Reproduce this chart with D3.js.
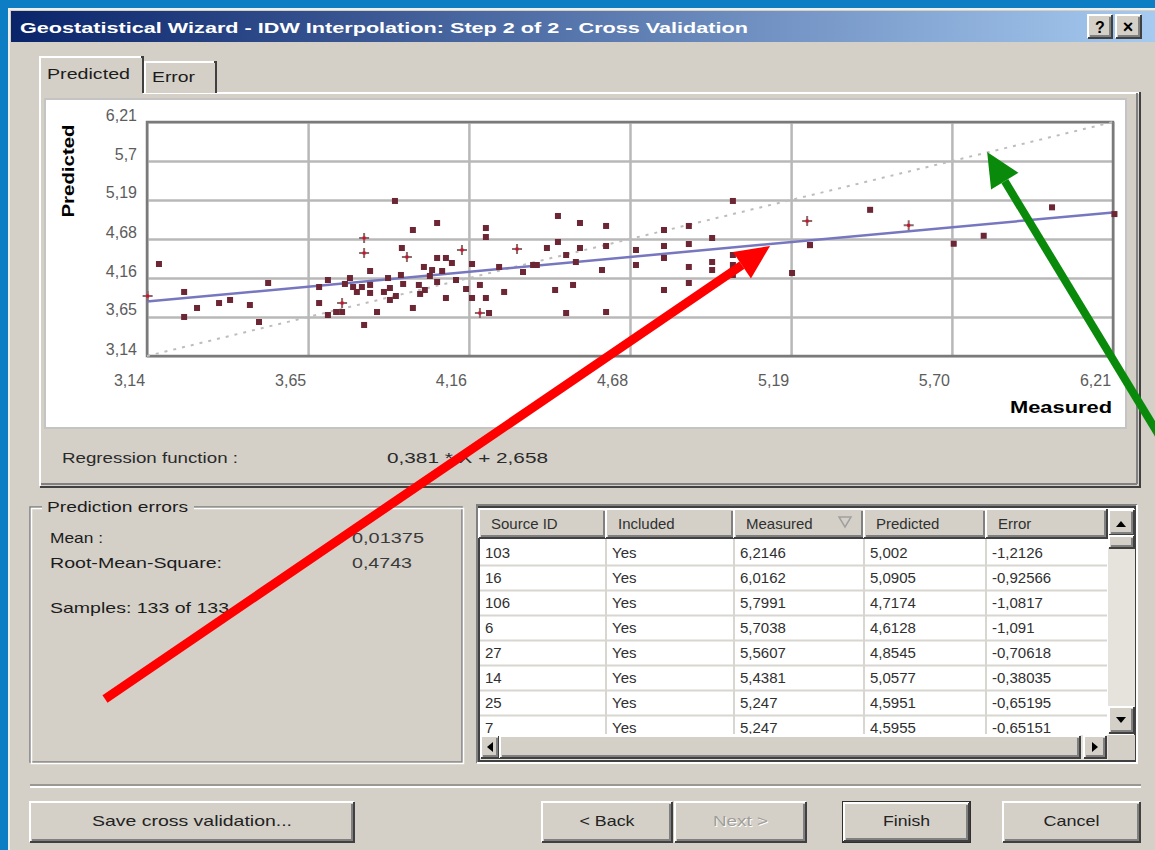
<!DOCTYPE html>
<html>
<head>
<meta charset="utf-8">
<script src="https://cdn.jsdelivr.net/npm/d3@7"></script>
<style>
  body { margin: 0; background: #0d7dc4; }
  svg text { font-family: "Liberation Sans", Arial, sans-serif; }
</style>
</head>
<body>
<svg id="viz" width="1155" height="850"></svg>
<script>
// ---- data ----
var measured = [3.178, 3.258, 3.258, 3.299, 3.369, 3.404, 3.467, 3.525, 3.496, 3.687,
  3.687, 3.715, 3.715, 3.741, 3.760, 3.785, 3.795, 3.807, 3.830, 3.849,
  3.849, 3.849, 3.871, 3.912, 3.912, 3.906, 3.928, 3.950, 3.954, 3.985,
  3.985, 4.004, 4.020, 4.023, 4.046, 4.062, 4.062, 4.062, 4.078, 4.090,
  4.090, 4.109, 4.154, 4.173, 4.173, 4.198, 4.217, 4.217, 4.217, 4.227,
  4.259, 4.275, 4.335, 4.367, 4.379, 4.411, 4.437, 4.446, 4.446, 4.472,
  4.472, 4.494, 4.503, 4.516, 4.516, 4.586, 4.599, 4.599, 4.599, 4.694,
  4.694, 4.783, 4.783, 4.783, 4.783, 4.862, 4.862, 4.862, 4.862, 4.936,
  4.936, 4.936, 5.002, 5.002, 5.002, 5.002, 5.190, 5.247, 5.247, 5.4381,
  5.7038, 5.7991, 6.0162, 6.2146,
  3.893, 3.931, 3.823, 3.769, 4.039, 4.122, 4.008, 3.947];
var predicted = [4.347, 3.980, 3.652, 3.770, 3.835, 3.875, 3.809, 4.098, 3.586, 4.045,
  3.835, 4.137, 3.678, 3.717, 3.717, 4.163, 4.045, 3.980, 3.547, 4.255,
  4.072, 3.967, 3.717, 4.032, 3.875, 4.163, 5.174, 4.557, 4.085, 4.793,
  3.770, 4.072, 4.308, 4.006, 4.268, 4.885, 4.426, 4.111, 4.255, 4.426,
  3.901, 4.360, 4.019, 4.347, 3.901, 4.072, 4.819, 4.701, 3.901, 3.704,
  4.308, 3.980, 4.242, 4.334, 4.334, 4.557, 4.006, 4.977, 4.636, 4.465,
  3.704, 4.072, 4.373, 4.885, 4.557, 4.268, 4.846, 4.583, 3.717, 4.531,
  4.334, 4.793, 4.583, 4.426, 4.006, 4.846, 4.609, 4.308, 4.098, 4.688,
  4.268, 4.373, 5.174, 4.465, 4.334, 4.203, 4.229, 4.5951, 4.5955, 5.0577,
  4.6128, 4.7174, 5.0905, 5.002,
  3.980, 3.927, 4.045, 4.085, 4.190, 4.137, 3.954, 4.203];

// points drawn as "+" in the plot
var plusMeasured = [3.142, 3.830, 3.830, 3.760, 3.966, 4.141, 4.198, 4.316, 5.238, 5.5607];
var plusPredicted = [3.927, 4.688, 4.491, 3.835, 4.439, 4.531, 3.704, 4.544, 4.911, 4.8545];

var tickValues = [3.14, 3.652, 4.163, 4.675, 5.187, 5.698, 6.21];
var xTickLabels = ["3,14", "3,65", "4,16", "4,68", "5,19", "5,70", "6,21"];
var yTickLabels = ["3,14", "3,65", "4,16", "4,68", "5,19", "5,7", "6,21"];

var regSlope = 0.381, regIntercept = 2.658;

var tableColumns = ["Source ID", "Included", "Measured", "Predicted", "Error"];
var tableRows = [
  ["103", "Yes", "6,2146", "5,002", "-1,2126"],
  ["16", "Yes", "6,0162", "5,0905", "-0,92566"],
  ["106", "Yes", "5,7991", "4,7174", "-1,0817"],
  ["6", "Yes", "5,7038", "4,6128", "-1,091"],
  ["27", "Yes", "5,5607", "4,8545", "-0,70618"],
  ["14", "Yes", "5,4381", "5,0577", "-0,38035"],
  ["25", "Yes", "5,247", "4,5951", "-0,65195"],
  ["7", "Yes", "5,247", "4,5955", "-0,65151"]
];

var statLabels = ["Mean :", "Root-Mean-Square:"];
var statValues = ["0,01375", "0,4743"];

// annotation arrows, in data units of the plot
var redArrow = { from: [3.0065, -1.36], to: [5.12, 4.583] };
var greenArrow = { from: [6.423, 1.644], to: [5.81, 5.816] };

// ---- helpers ----
var FACE = "#d4d0c8";
var svg = d3.select("#viz");

function txt(g, x, y, s, o) {
  o = o || {};
  var t = g.append("text").attr("x", x).attr("y", y).text(s)
    .attr("font-size", o.size || 15)
    .attr("fill", o.fill || "#1c1c1c");
  if (o.weight) t.attr("font-weight", o.weight);
  if (o.anchor) t.attr("text-anchor", o.anchor);
  if (o.len) t.attr("textLength", o.len).attr("lengthAdjust", "spacingAndGlyphs");
  return t;
}

function bevel(g, x, y, w, h, sunken, fill) {
  g.append("rect").attr("x", x).attr("y", y).attr("width", w).attr("height", h)
    .attr("fill", fill || FACE);
  var lt = sunken ? "#808080" : "#ffffff";
  var rb = sunken ? "#ffffff" : "#404040";
  var rb2 = sunken ? FACE : "#808080";
  g.append("path").attr("d", "M" + x + "," + (y + h) + "V" + y + "H" + (x + w))
    .attr("fill", "none").attr("stroke", lt).attr("stroke-width", 2);
  g.append("path").attr("d", "M" + (x + 2) + "," + (y + h - 2) + "H" + (x + w - 2) + "V" + (y + 2))
    .attr("fill", "none").attr("stroke", rb2).attr("stroke-width", 2);
  g.append("path").attr("d", "M" + x + "," + (y + h) + "H" + (x + w) + "V" + y)
    .attr("fill", "none").attr("stroke", rb).attr("stroke-width", 2);
}

function hline(g, x1, x2, y, c, w) {
  g.append("line").attr("x1", x1).attr("x2", x2).attr("y1", y).attr("y2", y)
    .attr("stroke", c).attr("stroke-width", w || 2);
}
function vline(g, x, y1, y2, c, w) {
  g.append("line").attr("x1", x).attr("x2", x).attr("y1", y1).attr("y2", y2)
    .attr("stroke", c).attr("stroke-width", w || 2);
}

// ---- dialog frame ----
svg.append("rect").attr("x", 8).attr("y", 8).attr("width", 1147).attr("height", 842).attr("fill", FACE);
vline(svg, 9, 8, 850, "#f0eee8", 2);
hline(svg, 8, 1155, 9, "#f0eee8", 2);

var grad = svg.append("defs").append("linearGradient").attr("id", "titleGrad");
grad.append("stop").attr("offset", "0%").attr("stop-color", "#0a246a");
grad.append("stop").attr("offset", "100%").attr("stop-color", "#a6caf0");
svg.append("rect").attr("x", 11).attr("y", 11).attr("width", 1144).attr("height", 31).attr("fill", "url(#titleGrad)");
txt(svg, 20, 33, "Geostatistical Wizard - IDW Interpolation: Step 2 of 2 - Cross Validation",
  { fill: "#ffffff", weight: "bold", size: 15, len: 728 });

bevel(svg, 1088, 15, 24, 23, false);
txt(svg, 1100, 33, "?", { anchor: "middle", weight: "bold", size: 16, fill: "#000" });
bevel(svg, 1116, 15, 25, 23, false);
txt(svg, 1128, 33, "×", { anchor: "middle", weight: "bold", size: 18, fill: "#000" });

// ---- tabs ----
var tabs = svg.append("g");
// panel border
hline(tabs, 40, 1140, 93, "#ffffff", 2);
vline(tabs, 40, 93, 486, "#ffffff", 2);
vline(tabs, 1137, 93, 484, "#808080", 2);
vline(tabs, 1140, 92, 487, "#404040", 2);
hline(tabs, 41, 1137, 484, "#808080", 2);
hline(tabs, 40, 1141, 487, "#404040", 2);
// Error tab
tabs.append("rect").attr("x", 145).attr("y", 60).attr("width", 71).attr("height", 33).attr("fill", FACE);
tabs.append("path").attr("d", "M145,93V62H214").attr("fill", "none").attr("stroke", "#fff").attr("stroke-width", 2);
tabs.append("path").attr("d", "M214,62H216V93").attr("fill", "none").attr("stroke", "#404040").attr("stroke-width", 2);
txt(tabs, 152, 82, "Error", { len: 43 });
// Predicted tab (selected)
tabs.append("rect").attr("x", 40).attr("y", 55).attr("width", 103).attr("height", 40).attr("fill", FACE);
tabs.append("path").attr("d", "M40,95V57H141").attr("fill", "none").attr("stroke", "#fff").attr("stroke-width", 2);
tabs.append("path").attr("d", "M141,57H143V93").attr("fill", "none").attr("stroke", "#404040").attr("stroke-width", 2);
txt(tabs, 47, 79, "Predicted", { len: 83 });

// ---- chart ----
svg.append("rect").attr("x", 45).attr("y", 99).attr("width", 1081).attr("height", 329)
  .attr("fill", "#ffffff").attr("stroke", "#c4c4c4").attr("stroke-width", 2);

var plot = { left: 147, right: 1113, top: 122, bottom: 356 };
var xScale = d3.scaleLinear().domain([3.14, 6.21]).range([plot.left, plot.right]);
var yScale = d3.scaleLinear().domain([3.14, 6.21]).range([plot.bottom, plot.top]);

var chart = svg.append("g");

var xAxis = d3.axisBottom(xScale).tickValues(tickValues)
  .tickFormat(function (d, i) { return xTickLabels[i]; })
  .tickSize(-(plot.bottom - plot.top));
var yAxis = d3.axisLeft(yScale).tickValues(tickValues)
  .tickFormat(function (d, i) { return yTickLabels[i]; })
  .tickSize(-(plot.right - plot.left));

var gx = chart.append("g").attr("transform", "translate(0," + plot.bottom + ")").call(xAxis);
var gy = chart.append("g").attr("transform", "translate(" + plot.left + ",0)").call(yAxis);
[gx, gy].forEach(function (g) {
  g.select(".domain").remove();
  g.selectAll(".tick line").attr("stroke", "#b8b8b8").attr("stroke-width", 2.5);
  g.selectAll(".tick text").attr("fill", "#5c5c5c").attr("font-size", 16)
    .style("font-family", "\"Liberation Sans\", Arial, sans-serif");
});
gx.selectAll(".tick text").attr("y", 30).attr("dy", 0).attr("dx", -18);
gy.selectAll(".tick text").attr("x", -10).attr("dy", -2);

chart.append("rect").attr("x", plot.left).attr("y", plot.top)
  .attr("width", plot.right - plot.left).attr("height", plot.bottom - plot.top)
  .attr("fill", "none").attr("stroke", "#7a7a7a").attr("stroke-width", 2.5);

// 1:1 reference line
chart.append("line")
  .attr("x1", xScale(3.14)).attr("y1", yScale(3.14))
  .attr("x2", xScale(6.21)).attr("y2", yScale(6.21))
  .attr("stroke", "#bdbdbd").attr("stroke-width", 2).attr("stroke-dasharray", "3,6");

// regression line
chart.append("line")
  .attr("x1", xScale(3.14)).attr("y1", yScale(regSlope * 3.14 + regIntercept))
  .attr("x2", xScale(6.21)).attr("y2", yScale(regSlope * 6.21 + regIntercept))
  .attr("stroke", "#7777c0").attr("stroke-width", 2.5);

var pts = measured.map(function (m, i) { return { m: m, p: predicted[i] }; });
chart.selectAll("rect.pt").data(pts).enter().append("rect").attr("class", "pt")
  .attr("x", function (d) { return xScale(d.m) - 3; })
  .attr("y", function (d) { return yScale(d.p) - 3; })
  .attr("width", 6).attr("height", 6)
  .attr("fill", "#6c2634");

var plus = plusMeasured.map(function (m, i) { return { m: m, p: plusPredicted[i] }; });
var pg = chart.selectAll("g.plus").data(plus).enter().append("g").attr("class", "plus")
  .attr("transform", function (d) { return "translate(" + xScale(d.m) + "," + yScale(d.p) + ")"; });
pg.append("path").attr("d", "M-5,0H5M0,-5V5").attr("stroke", "#8a6868").attr("stroke-width", 2);
pg.append("rect").attr("x", -1.5).attr("y", -1.5).attr("width", 3).attr("height", 3).attr("fill", "#d0102c");

// axis titles
txt(chart, 0, 0, "Predicted", { weight: "bold", size: 16, fill: "#000", anchor: "middle", len: 93 })
  .attr("transform", "translate(74,171) rotate(-90)");
txt(chart, 1112, 413, "Measured", { weight: "bold", size: 16, fill: "#000", anchor: "end", len: 102 });

// regression text
txt(svg, 62, 463, "Regression function :", { len: 176, fill: "#2a2a2a" });
txt(svg, 387, 463, "0,381 * X + 2,658", { len: 161, fill: "#2a2a2a" });

// ---- prediction errors group ----
var grp = svg.append("g");
grp.append("rect").attr("x", 30).attr("y", 507).attr("width", 432).attr("height", 255)
  .attr("fill", "none").attr("stroke", "#808080").attr("stroke-width", 1.5);
grp.append("rect").attr("x", 31.5).attr("y", 508.5).attr("width", 432).attr("height", 255)
  .attr("fill", "none").attr("stroke", "#ffffff").attr("stroke-width", 1.5);
grp.append("rect").attr("x", 42).attr("y", 498).attr("width", 152).attr("height", 20).attr("fill", FACE);
txt(grp, 47, 512, "Prediction errors", { len: 141 });
statLabels.forEach(function (s, i) {
  txt(grp, 50, 543 + i * 25, s, { len: i === 0 ? 53 : 172 });
  txt(grp, 352, 543 + i * 25, statValues[i], { len: i === 0 ? 72 : 60, fill: "#3a3a3a" });
});
txt(grp, 50, 613, "Samples: 133 of 133", { len: 179 });

// ---- table ----
var tbl = svg.append("g");
var colEdges = [479, 606, 734, 864, 986, 1107];
bevel(tbl, 477, 505, 660, 258, true, "#ffffff");
tbl.append("rect").attr("x", 479).attr("y", 507).attr("width", 656).attr("height", 254)
  .attr("fill", "none").attr("stroke", "#404040").attr("stroke-width", 2);
tbl.append("clipPath").attr("id", "rowsClip").append("rect")
  .attr("x", 480).attr("y", 539).attr("width", 627).attr("height", 195);
var rows = tbl.append("g").attr("clip-path", "url(#rowsClip)");
tableRows.forEach(function (r, i) {
  var yc = 553 + i * 25;
  hline(rows, 480, 1107, yc + 12.5, "#d8d6d0", 2);
  r.forEach(function (v, j) {
    txt(rows, colEdges[j] + 6, yc + 5, v, { fill: "#303030" });
  });
});
colEdges.slice(1, 5).forEach(function (x) { vline(rows, x, 539, 734, "#d8d6d0", 2); });
tableColumns.forEach(function (c, j) {
  bevel(tbl, colEdges[j], 509, colEdges[j + 1] - colEdges[j], 29, false);
  txt(tbl, colEdges[j] + 12, 529, c, { fill: "#303030" });
});
// sort indicator
tbl.append("path").attr("d", "M839,517L851,517L845,527Z").attr("fill", "none").attr("stroke", "#a0a0a0").attr("stroke-width", 1.5);

// vertical scrollbar
tbl.append("rect").attr("x", 1108).attr("y", 509).attr("width", 27).attr("height", 225).attr("fill", "#e6e3dc");
bevel(tbl, 1109, 510, 25, 25, false);
tbl.append("path").attr("d", "M1116,527L1126,527L1121,521Z").attr("fill", "#000");
bevel(tbl, 1109, 536, 25, 12, false);
bevel(tbl, 1109, 707, 25, 26, false);
tbl.append("path").attr("d", "M1116,717L1126,717L1121,723Z").attr("fill", "#000");
// horizontal scrollbar
tbl.append("rect").attr("x", 480).attr("y", 735).attr("width", 655).attr("height", 25).attr("fill", "#e6e3dc");
bevel(tbl, 481, 736, 18, 22, false);
tbl.append("path").attr("d", "M493,742L493,752L487,747Z").attr("fill", "#000");
bevel(tbl, 500, 736, 580, 22, false);
bevel(tbl, 1084, 736, 22, 22, false);
tbl.append("path").attr("d", "M1092,742L1092,752L1098,747Z").attr("fill", "#000");
tbl.append("rect").attr("x", 1108).attr("y", 735).attr("width", 27).attr("height", 25).attr("fill", FACE);

// ---- bottom buttons ----
hline(svg, 30, 1141, 785, "#9a9890", 2);
hline(svg, 30, 1141, 787, "#ffffff", 2);
var buttons = [
  { x: 30, w: 324, label: "Save cross validation...", len: 200 },
  { x: 542, w: 130, label: "< Back", len: 55 },
  { x: 675, w: 131, label: "Next >", len: 55, disabled: true },
  { x: 843, w: 127, label: "Finish", len: 47, def: true },
  { x: 1003, w: 137, label: "Cancel", len: 56 }
];
buttons.forEach(function (b) {
  var g = svg.append("g");
  if (b.def) {
    g.append("rect").attr("x", b.x - 1).attr("y", 801).attr("width", b.w + 2).attr("height", 42).attr("fill", "#303030");
    bevel(g, b.x + 1, 803, b.w - 2, 38, false);
  } else {
    bevel(g, b.x, 802, b.w, 40, false);
  }
  var cx = b.x + b.w / 2;
  if (b.disabled) {
    txt(g, cx + 1, 827, b.label, { anchor: "middle", len: b.len, fill: "#ffffff" });
    txt(g, cx, 826, b.label, { anchor: "middle", len: b.len, fill: "#a09e98" });
  } else {
    txt(g, cx, 826, b.label, { anchor: "middle", len: b.len, fill: "#222" });
  }
});

// ---- annotation arrows ----
function arrow(a, color, width, headLen, headHalf) {
  var x1 = xScale(a.from[0]), y1 = yScale(a.from[1]);
  var x2 = xScale(a.to[0]), y2 = yScale(a.to[1]);
  var ang = Math.atan2(y2 - y1, x2 - x1);
  var bx = x2 - headLen * Math.cos(ang), by = y2 - headLen * Math.sin(ang);
  svg.append("line").attr("x1", x1).attr("y1", y1).attr("x2", bx).attr("y2", by)
    .attr("stroke", color).attr("stroke-width", width);
  var px = -Math.sin(ang) * headHalf, py = Math.cos(ang) * headHalf;
  svg.append("path")
    .attr("d", "M" + x2 + "," + y2 + "L" + (bx + px) + "," + (by + py) + "L" + (bx - px) + "," + (by - py) + "Z")
    .attr("fill", color);
}
arrow(redArrow, "#ff0000", 9, 34, 16);
arrow(greenArrow, "#0a8a0a", 8, 34, 16);
</script>
</body>
</html>
